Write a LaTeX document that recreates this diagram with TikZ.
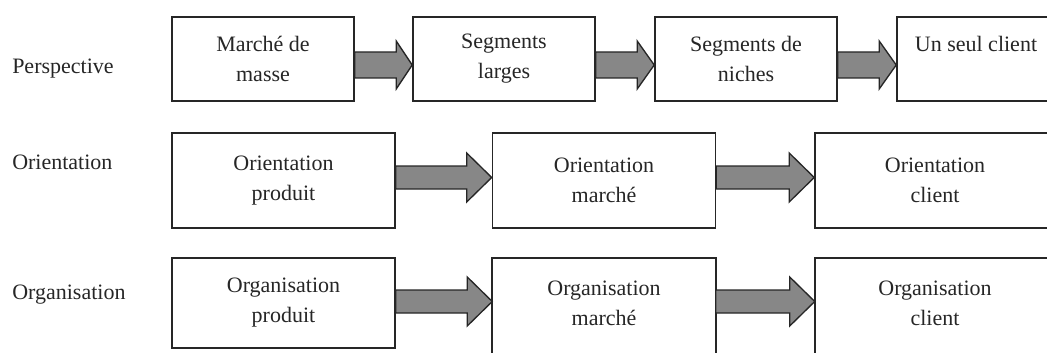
\documentclass[tikz,border=0pt]{standalone}
\usepackage{fontspec}
\setmainfont{Liberation Serif}
\usetikzlibrary{calc}
\newcommand\fatarrow[6]{% #1 from, #2 to, #3 centre y, #4 shaft half, #5 head half, #6 head length
  \draw[fatarr] ($(#1.east|-0,#3)+(0,-#4)$) -- ($(#2.west|-0,#3)+(-#6,-#4)$)
    -- ($(#2.west|-0,#3)+(-#6,-#5)$) -- (#2.west|-0,#3)
    -- ($(#2.west|-0,#3)+(-#6,#5)$) -- ($(#2.west|-0,#3)+(-#6,#4)$)
    -- ($(#1.east|-0,#3)+(0,#4)$) -- cycle;}
\begin{document}
\begin{tikzpicture}[x=0.75pt,y=-0.75pt,
  txt/.style={font=\fontsize{16.5}{22.5}\selectfont, text=black!85},
  box/.style={txt, draw=black!85, line width=1.2pt, fill=white, align=center, inner sep=0pt},
  openbox/.style={txt, draw=none, align=center, inner sep=0pt},
  boxline/.style={draw=black!85, line width=1.2pt},
  lbl/.style={txt, anchor=base west, inner sep=0pt},
  fatarr/.style={draw=black!85, line width=1pt, fill=black!47, line join=miter}]
\useasboundingbox (0,0) rectangle (1047,353);
\clip (0,0) rectangle (1047,353);

% row labels
\node[lbl] (lp) at (12,74) {Perspective};
\node[lbl] (lo) at (12,170) {Orientation};
\node[lbl] (lg) at (12,299) {Organisation};

% row 1
\node[box, minimum width=136.5pt, minimum height=63pt] (p1) at (263,59) {Marché de\\masse};
\node[box, minimum width=136.5pt, minimum height=63pt] (p2) at (504,59) {Segments\\larges};
\node[box, minimum width=136.5pt, minimum height=63pt] (p3) at (746,59) {Segments de\\niches};
\node[box, minimum width=118.5pt, minimum height=63pt] (p4) at (976,59) {Un seul client\\\mbox{}};

% row 2
\node[box, minimum width=167.25pt, minimum height=71.25pt] (o1) at (283.5,180.5) {Orientation\\produit};
\node[box, minimum width=167.25pt, minimum height=71.25pt] (o2) at (604,180.5) {Orientation\\marché};
\node[box, minimum width=180pt, minimum height=71.25pt] (o3) at (935,180.5) {Orientation\\client};

% row 3
\node[box, minimum width=167.25pt, minimum height=67.5pt] (g1) at (283.5,303) {Organisation\\produit};
\node[openbox, minimum width=167.25pt, minimum height=67.5pt] (g2) at (604,303) {Organisation\\marché};
\node[openbox, minimum width=180pt, minimum height=67.5pt] (g3) at (935,303) {Organisation\\client};
\draw[boxline] ($(g2.south west)+(0,12)$) -- (g2.north west) -- (g2.north east) -- ($(g2.south east)+(0,12)$);
\draw[boxline] ($(g3.south west)+(0,12)$) -- (g3.north west) -- (g3.north east) -- ($(g3.south east)+(0,12)$);

% arrows
\fatarrow{p1}{p2}{65}{13}{24}{16}
\fatarrow{p2}{p3}{65}{13}{24}{17}
\fatarrow{p3}{p4}{65}{13}{24}{17}
\fatarrow{o1}{o2}{177.5}{11.5}{24.5}{25}
\fatarrow{o2}{o3}{177.5}{11.5}{24.5}{25}
\fatarrow{g1}{g2}{301.5}{11.5}{24.5}{25}
\fatarrow{g2}{g3}{301.5}{11.5}{24.5}{25}
\end{tikzpicture}
\end{document}
